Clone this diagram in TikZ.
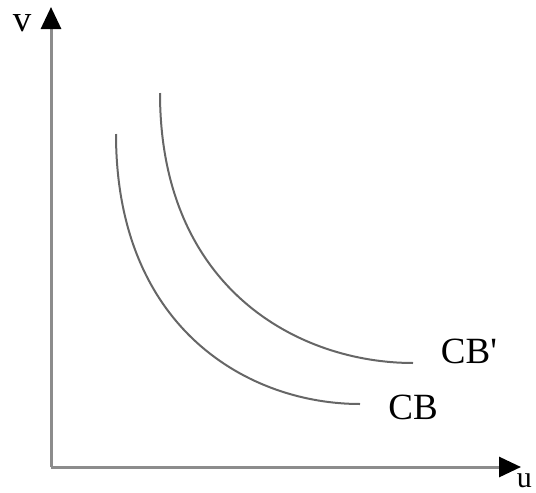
\documentclass[tikz,border=0pt]{standalone}
\usepackage{fontspec}
\setmainfont{Liberation Serif}
\usetikzlibrary{arrows.meta}
\begin{document}
\begin{tikzpicture}[x=1pt,y=-1pt,
  axis/.style={draw=black!45,line width=3pt,-{Triangle[length=22pt,width=20pt,black]}},
  curve/.style={draw=black!60,line width=2pt},
  lbl/.style={font=\fontsize{37}{40}\selectfont,inner sep=0pt}]
\useasboundingbox (0,0) rectangle (536,493);
\coordinate (o) at (51,467);
\coordinate (vt) at (51,7);
\coordinate (ut) at (521,467);
\draw[axis] (o) -- (vt);
\draw[axis] (o) -- (ut);
\node[lbl] (v) at (22,23) {v};
\node[lbl,anchor=base east,font=\fontsize{30}{32}\selectfont] (u) at (532,487) {u};
\coordinate (a1) at (116,134);
\coordinate (a2) at (360,404);
\coordinate (b1) at (160,93);
\coordinate (b2) at (413,363);
\draw[curve] (a1) .. controls (116,330) and (250,404) .. (a2);
\draw[curve] (b1) .. controls (160,290) and (300,363) .. (b2);
\node[lbl] (cb) at (413,407) {CB};
\node[lbl] (cbp) at (469,351) {CB\textquotesingle};
\end{tikzpicture}
\end{document}
